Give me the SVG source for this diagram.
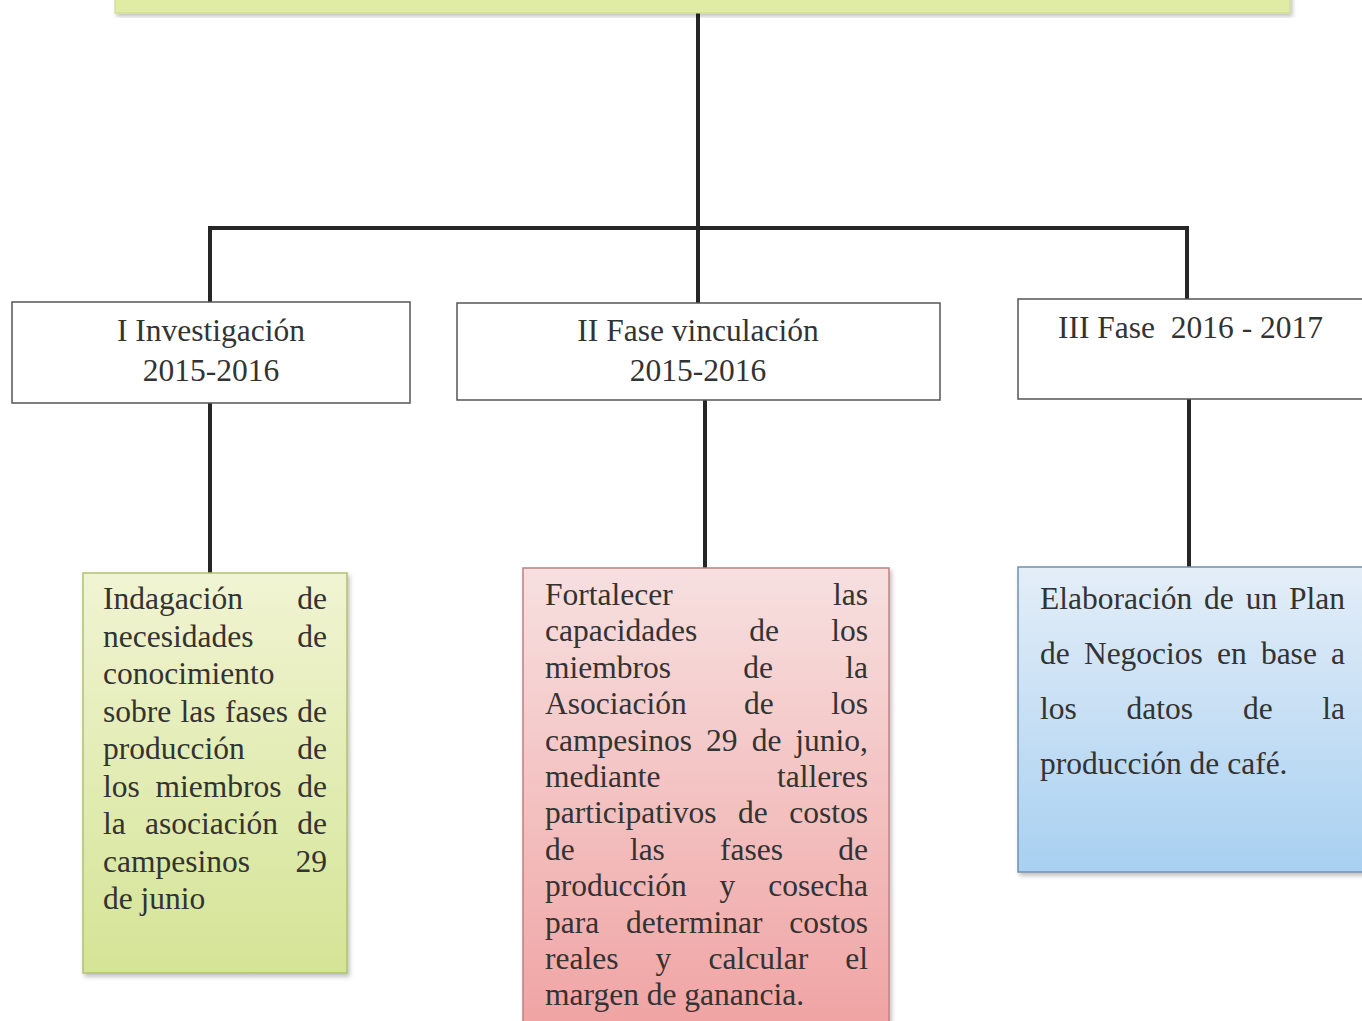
<svg xmlns="http://www.w3.org/2000/svg" width="1362" height="1021" viewBox="0 0 1362 1021">
  <style>
    .t { font-family: "Liberation Serif", "Times New Roman", serif; font-size: 31.5px; fill: #333; }
    .e { text-anchor: end; }
    .m { text-anchor: middle; }
    .hdr { fill: #ffffff; stroke: #555; stroke-width: 1.5; }
    .conn { fill: none; stroke: #262626; stroke-width: 4; stroke-linejoin: miter; stroke-linecap: butt; }
  </style>
  <defs>
    <linearGradient id="gGreen" x1="0" y1="0" x2="0" y2="1">
      <stop offset="0" stop-color="#f1f4d2"/>
      <stop offset="1" stop-color="#d4e496"/>
    </linearGradient>
    <linearGradient id="gRed" x1="0" y1="0" x2="0" y2="1">
      <stop offset="0" stop-color="#f7e0e0"/>
      <stop offset="1" stop-color="#f0a2a2"/>
    </linearGradient>
    <linearGradient id="gBlue" x1="0" y1="0" x2="0" y2="1">
      <stop offset="0" stop-color="#e4eef8"/>
      <stop offset="1" stop-color="#a8d0f1"/>
    </linearGradient>
    <filter id="sh" x="-10%" y="-10%" width="120%" height="130%">
      <feDropShadow dx="2" dy="3" stdDeviation="2" flood-color="#000" flood-opacity="0.25"/>
    </filter>
  </defs>

  <rect width="1362" height="1021" fill="#ffffff"/>

  <g id="connectors">
    <path class="conn" d="M698,13 V303"/>
    <path class="conn" d="M210,302 V228 H1187 V299"/>
    <path class="conn" d="M210,403 V573"/>
    <path class="conn" d="M705,400 V568"/>
    <path class="conn" d="M1189,399 V567"/>
  </g>

  <g id="top">
    <rect x="115" y="-10" width="1175" height="23" fill="#e0eba4" stroke="#c9d88a" stroke-width="1" filter="url(#sh)"/>
  </g>

  <g id="fase1">
    <rect class="hdr" x="12" y="302" width="398" height="101"/>
    <text class="t m" x="211" y="341">I Investigación</text>
    <text class="t m" x="211" y="381">2015-2016</text>
  </g>

  <g id="fase2">
    <rect class="hdr" x="457" y="303" width="483" height="97"/>
    <text class="t m" x="698" y="341">II Fase vinculación</text>
    <text class="t m" x="698" y="381">2015-2016</text>
  </g>

  <g id="fase3">
    <rect class="hdr" x="1018" y="299" width="360" height="100"/>
    <text class="t" x="1058" y="338" xml:space="preserve">III Fase  2016 - 2017</text>
  </g>

  <g id="investigacion">
    <rect x="83" y="573" width="264" height="400" fill="url(#gGreen)" stroke="#b0c070" stroke-width="1.5" filter="url(#sh)"/>
    <text class="t" x="103" y="609">Indagación</text><text class="t e" x="327" y="609">de</text>
    <text class="t" x="103" y="646.5">necesidades</text><text class="t e" x="327" y="646.5">de</text>
    <text class="t" x="103" y="684">conocimiento</text>
    <text class="t" y="721.5"><tspan x="103">sobre</tspan><tspan x="180.6">las</tspan><tspan x="225">fases</tspan></text><text class="t e" x="327" y="721.5">de</text>
    <text class="t" x="103" y="759">producción</text><text class="t e" x="327" y="759">de</text>
    <text class="t" y="796.5"><tspan x="103">los</tspan><tspan x="155.5">miembros</tspan></text><text class="t e" x="327" y="796.5">de</text>
    <text class="t" y="834"><tspan x="103">la</tspan><tspan x="145">asociación</tspan></text><text class="t e" x="327" y="834">de</text>
    <text class="t" x="103" y="871.5">campesinos</text><text class="t e" x="327" y="871.5">29</text>
    <text class="t" x="103" y="909">de junio</text>
  </g>

  <g id="vinculacion">
    <rect x="523" y="568" width="366" height="470" fill="url(#gRed)" stroke="#c08080" stroke-width="1.5" filter="url(#sh)"/>
    <text class="t" x="545" y="605">Fortalecer</text><text class="t e" x="868" y="605">las</text>
    <text class="t" y="641.4"><tspan x="545">capacidades</tspan><tspan x="749.3">de</tspan></text><text class="t e" x="868" y="641.4">los</text>
    <text class="t" y="677.8"><tspan x="545">miembros</tspan><tspan x="743.3">de</tspan></text><text class="t e" x="868" y="677.8">la</text>
    <text class="t" y="714.2"><tspan x="545">Asociación</tspan><tspan x="744">de</tspan></text><text class="t e" x="868" y="714.2">los</text>
    <text class="t" y="750.6"><tspan x="545">campesinos</tspan><tspan x="706.1">29</tspan><tspan x="751.7">de</tspan></text><text class="t e" x="868" y="750.6">junio,</text>
    <text class="t" x="545" y="787">mediante</text><text class="t e" x="868" y="787">talleres</text>
    <text class="t" y="823.4"><tspan x="545">participativos</tspan><tspan x="738">de</tspan></text><text class="t e" x="868" y="823.4">costos</text>
    <text class="t" y="859.8"><tspan x="545">de</tspan><tspan x="629.9">las</tspan><tspan x="720.1">fases</tspan></text><text class="t e" x="868" y="859.8">de</text>
    <text class="t" y="896.2"><tspan x="545">producción</tspan><tspan x="719.6">y</tspan></text><text class="t e" x="868" y="896.2">cosecha</text>
    <text class="t" y="932.6"><tspan x="545">para</tspan><tspan x="626">determinar</tspan></text><text class="t e" x="868" y="932.6">costos</text>
    <text class="t" y="969"><tspan x="545">reales</tspan><tspan x="655.6">y</tspan><tspan x="708.5">calcular</tspan></text><text class="t e" x="868" y="969">el</text>
    <text class="t" x="545" y="1005.4">margen de ganancia.</text>
  </g>

  <g id="plan">
    <rect x="1018" y="567" width="360" height="305" fill="url(#gBlue)" stroke="#7090b0" stroke-width="1.5" filter="url(#sh)"/>
    <text class="t" y="609"><tspan x="1040">Elaboración</tspan><tspan x="1204.1">de</tspan><tspan x="1245.7">un</tspan></text><text class="t e" x="1345" y="609">Plan</text>
    <text class="t" y="664"><tspan x="1040">de</tspan><tspan x="1083.9">Negocios</tspan><tspan x="1217">en</tspan><tspan x="1260.9">base</tspan></text><text class="t e" x="1345" y="664">a</text>
    <text class="t" y="719"><tspan x="1040">los</tspan><tspan x="1126.6">datos</tspan><tspan x="1242.9">de</tspan></text><text class="t e" x="1345" y="719">la</text>
    <text class="t" x="1040" y="774">producción de café.</text>
  </g>
</svg>
